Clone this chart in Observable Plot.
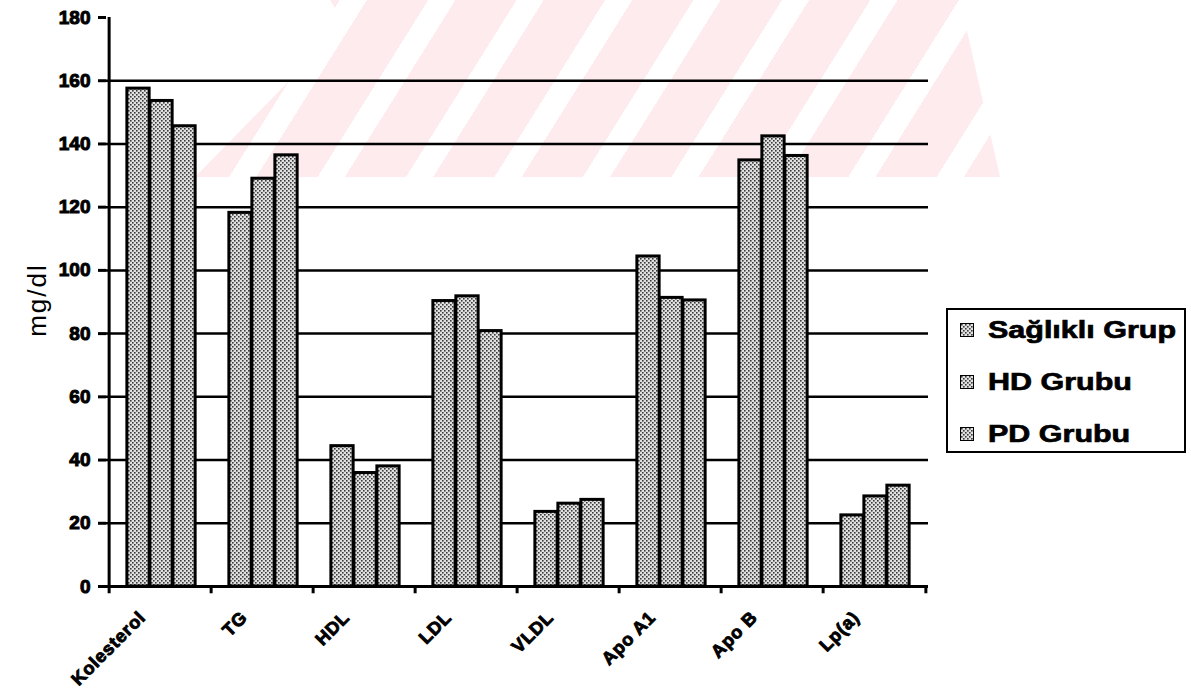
<!DOCTYPE html>
<html><head><meta charset="utf-8">
<script src="https://cdn.jsdelivr.net/npm/d3@7"></script>
<script src="https://cdn.jsdelivr.net/npm/@observablehq/plot@0.6"></script>
<style>
body{margin:0;background:#fff;}
#wrap{position:relative;width:1191px;height:695px;overflow:hidden;font-family:"Liberation Sans",Arial,sans-serif;}
#wm{position:absolute;left:190px;top:0;width:820px;height:177px;
  background:repeating-linear-gradient(122deg,#fdebee 0px,#fdebee 52px,rgba(255,255,255,0) 52px,rgba(255,255,255,0) 75px);
  clip-path:polygon(140px 0,155px 24px,5px 177px,810px 177px,770px 0);}
#chart{position:absolute;left:0;top:0;}
#legend{position:absolute;left:946px;top:308px;width:240px;height:145px;border:2px solid #000;background:#fff;box-sizing:border-box;}
.row{position:absolute;left:12px;height:30px;display:flex;align-items:center;}
.sw{width:12px;height:12px;border:1.5px solid #000;margin-right:14px;flex:none;}
.lt{font-weight:bold;font-size:24px;transform:scaleX(1.27);transform-origin:left center;white-space:nowrap;-webkit-text-stroke:0.7px #000;}
#ylab{position:absolute;left:37px;top:300px;transform:translate(-50%,-50%) rotate(-90deg);font-size:26px;letter-spacing:2px;white-space:nowrap;}
</style></head><body>
<div id="wrap"><div id="wm"></div><div id="chart"></div><div id="ylab">mg/dl</div><div id="legend"></div></div>
<script>
const categories = ["Kolesterol","TG","HDL","LDL","VLDL","Apo A1","Apo B","Lp(a)"];
const series = ["Sağlıklı Grup","HD Grubu","PD Grubu"];
const saglikli = [157.5,118.2,44.4,90.3,23.6,104.4,134.8,22.5];
const hdGrubu  = [153.6,129.0,35.9,91.8,26.2,91.3,142.4,28.5];
const pdGrubu  = [145.6,136.4,38.0,80.8,27.4,90.5,136.2,31.9];
const yTicks = [0,20,40,60,80,100,120,140,160,180];
const gridValues = [20,40,60,80,100,120,140,160];

const valuesBySeries = [saglikli, hdGrubu, pdGrubu];
const W = 1191, H = 695, mL = 106, mR = 263, mT = 17, mB = 109;
const bw = (W - mL - mR) / categories.length;
const barW = 23;
const inset = (bw - barW) / 2;

const barMarks = valuesBySeries.map((vals, si) =>
  Plot.barY(categories.map((c, i) => ({category: c, value: vals[i], series: series[si]})), {
    x: "category", y: "value", fill: "#cfcfcf", stroke: "#000", strokeWidth: 3,
    insetLeft: inset, insetRight: inset, dx: (si - 1) * barW + 1
  })
);

const chart = Plot.plot({
  width: W, height: H,
  marginLeft: mL, marginRight: mR, marginTop: mT, marginBottom: mB,
  style: {fontFamily: "'Liberation Sans', Arial, sans-serif", background: "transparent", color: "#000"},
  x: {domain: categories, padding: 0, label: null},
  y: {domain: [0, 180], label: null},
  marks: [
    Plot.ruleY(gridValues, {stroke: "#000", strokeWidth: 2.5}),
    ...barMarks,
    Plot.ruleY([0], {stroke: "#000", strokeWidth: 3}),
    Plot.ruleX([categories[0]], {dx: -bw / 2, y1: 0, y2: 180, stroke: "#000", strokeWidth: 3}),
    Plot.ruleX(categories, {dx: -bw / 2, y1: 0, y2: -2.3, stroke: "#000", strokeWidth: 3}),
    Plot.ruleX([categories[categories.length - 1]], {dx: bw / 2, y1: 0, y2: -2.3, stroke: "#000", strokeWidth: 3}),
    Plot.axisY({ticks: yTicks, tickSize: 8, tickPadding: 8, strokeWidth: 3, fontSize: 18, fontWeight: "bold", label: null}),
    Plot.axisX({tickRotate: -45, tickSize: 0, tickPadding: 20, fontSize: 18, fontWeight: "bold", label: null, dx: -18, dy: 8})
  ]
});

// dotted pattern fill for bars
const ns = "http://www.w3.org/2000/svg";
const defs = document.createElementNS(ns, "defs");
defs.innerHTML = '<pattern id="dots" width="4" height="4" patternUnits="userSpaceOnUse">' +
  '<rect width="4" height="4" fill="#e0e0e0"/>' +
  '<rect x="0" y="0" width="1.6" height="1.6" fill="#3a3a3a"/>' +
  '<rect x="2" y="2" width="1.6" height="1.6" fill="#3a3a3a"/></pattern>';
chart.insertBefore(defs, chart.firstChild);
chart.querySelectorAll('g[aria-label="bar"] rect').forEach(r => r.setAttribute("fill", "url(#dots)"));
const xl = chart.querySelector('g[aria-label="x-axis tick label"]');
if (xl) { xl.setAttribute("font-size", "18"); xl.setAttribute("font-weight", "bold"); xl.setAttribute("letter-spacing", "0.8"); xl.setAttribute("stroke", "#000"); xl.setAttribute("stroke-width", "0.9"); }
const yl = chart.querySelector('g[aria-label="y-axis tick label"]');
if (yl) { yl.setAttribute("font-size", "19"); yl.setAttribute("font-weight", "bold"); yl.setAttribute("stroke", "#000"); yl.setAttribute("stroke-width", "1"); }
document.getElementById("chart").appendChild(chart);

// legend
const legend = document.getElementById("legend");
const swatchSvg = '<svg width="12" height="12" style="display:block"><defs><pattern id="dl" width="4" height="4" patternUnits="userSpaceOnUse"><rect width="4" height="4" fill="#e0e0e0"/><rect width="1.6" height="1.6" fill="#3a3a3a"/><rect x="2" y="2" width="1.6" height="1.6" fill="#3a3a3a"/></pattern></defs><rect width="12" height="12" fill="url(#dl)"/></svg>';
series.forEach((s, i) => {
  const row = document.createElement("div");
  row.className = "row";
  row.style.top = (5 + i * 52) + "px";
  row.innerHTML = '<div class="sw">' + swatchSvg + '</div><div class="lt"></div>';
  row.querySelector(".lt").textContent = s;
  legend.appendChild(row);
});
</script>
</body></html>
